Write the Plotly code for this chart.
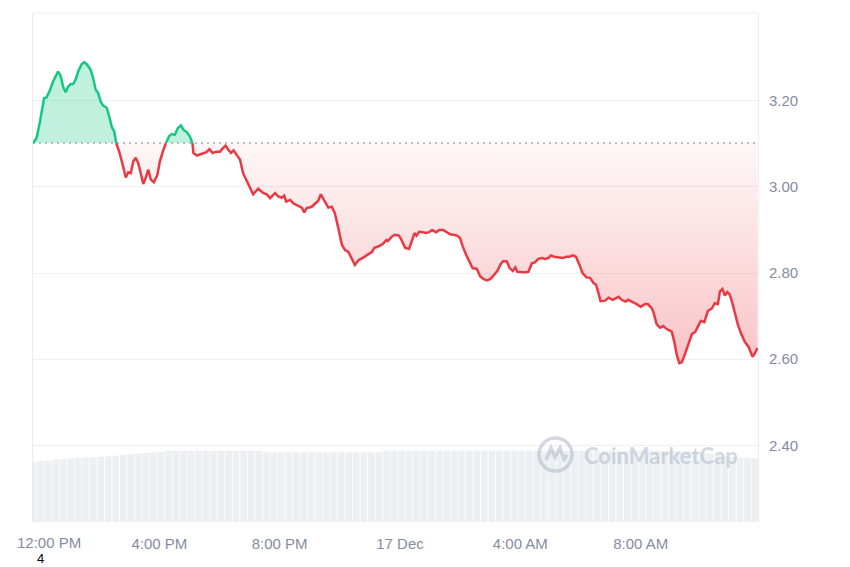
import plotly.graph_objects as go
import pandas as pd

# ---------------- data ----------------
start_time = "2024-12-16 11:48"
minutes = [0,7,14,22,27,33,40,50,55,60,
           65,70,75,80,85,90,97,102,108,115,
           120,125,130,135,140,147,152,157,162,166,
           172,179,185,190,195,200,205,210,215,220,
           225,230,235,241,248,253,259,265,272,277,
           283,289,295,300,307,313,318,320,327,333,
           340,346,352,358,366,373,378,384,390,395,
           400,406,413,419,429,439,449,459,466,473,
           483,489,496,501,505,513,519,529,536,541,
           546,556,562,569,574,581,589,596,602,609,
           616,622,629,636,642,650,659,669,676,681,
           689,697,705,708,716,722,730,735,742,750,
           755,761,765,770,777,784,790,796,804,810,
           818,825,832,838,846,852,857,864,870,877,
           885,892,899,906,913,920,926,933,938,945,
           951,957,962,966,973,981,988,995,1001,1008,
           1015,1021,1028,1033,1039,1048,1057,1063,1070,1077,
           1083,1090,1096,1104,1111,1118,1123,1128,1132,1141,
           1148,1156,1162,1168,1174,1182,1187,1195,1204,1212,
           1221,1226,1233,1237,1244,1251,1257,1264,1274,1279,
           1284,1289,1294,1301,1307,1314,1321,1326,1332,1339,
           1346,1354,1360,1366,1370,1375,1380,1385,1390,1395,
           1400,1406,1412,1420,1427,1435,1440,1445]
prices = [3.102,3.113,3.152,3.206,3.208,3.222,3.245,3.268,3.259,3.233,
          3.220,3.233,3.239,3.239,3.249,3.268,3.285,3.290,3.284,3.272,
          3.253,3.226,3.218,3.198,3.189,3.184,3.164,3.140,3.129,3.102,
          3.082,3.051,3.022,3.034,3.032,3.059,3.068,3.055,3.028,3.007,
          3.022,3.040,3.017,3.011,3.028,3.059,3.082,3.102,3.119,3.123,
          3.121,3.137,3.143,3.133,3.127,3.117,3.102,3.079,3.073,3.075,
          3.079,3.081,3.088,3.079,3.082,3.082,3.089,3.096,3.086,3.079,
          3.085,3.075,3.063,3.032,3.009,2.983,2.996,2.986,2.983,2.974,
          2.986,2.978,2.975,2.980,2.966,2.970,2.962,2.957,2.952,2.941,
          2.951,2.954,2.960,2.968,2.983,2.968,2.952,2.954,2.939,2.904,
          2.866,2.854,2.849,2.833,2.819,2.831,2.836,2.844,2.849,2.859,
          2.862,2.867,2.877,2.875,2.885,2.889,2.887,2.877,2.859,2.856,
          2.873,2.893,2.887,2.896,2.895,2.893,2.895,2.900,2.895,2.900,
          2.900,2.895,2.890,2.889,2.887,2.881,2.862,2.842,2.827,2.811,
          2.810,2.792,2.786,2.783,2.787,2.796,2.805,2.821,2.828,2.827,
          2.811,2.805,2.813,2.803,2.802,2.802,2.803,2.823,2.825,2.833,
          2.835,2.833,2.835,2.841,2.838,2.836,2.835,2.838,2.838,2.841,
          2.838,2.819,2.800,2.790,2.789,2.777,2.773,2.753,2.735,2.736,
          2.743,2.738,2.742,2.745,2.738,2.734,2.738,2.734,2.728,2.722,
          2.728,2.728,2.720,2.711,2.681,2.673,2.677,2.670,2.664,2.641,
          2.610,2.591,2.593,2.614,2.637,2.658,2.664,2.676,2.689,2.686,
          2.712,2.718,2.730,2.728,2.757,2.763,2.748,2.756,2.749,2.730,
          2.707,2.680,2.660,2.640,2.629,2.606,2.614,2.626]
base_price = 3.102

# volume (15-minute bars, millions)
volumes = [236,239,242,245,247,250,252,254,255,256,
           258,261,264,267,270,272,274,276,279,280,
           280,280,280,280,280,280,280,280,280,280,280,
           275,275,275,275,275,275,275,275,275,275,275,275,275,275,275,275,
           281,281,281,281,281,281,281,281,281,281,281,281,281,281,281,281,281,281,281,281,
           280,280,280,280,280,280,280,280,280,280,280,280,280,280,280,280,280,280,280,279,279,
           276,272,268,264,259,254,252,251,250]
volume_step_minutes = 15

tick_times = ["2024-12-16 12:00", "2024-12-16 16:00", "2024-12-16 20:00",
              "2024-12-17 00:00", "2024-12-17 04:00", "2024-12-17 08:00"]
tick_labels = ["12:00 PM", "4:00 PM", "8:00 PM", "17 Dec", "4:00 AM", "8:00 AM"]
y_ticks = [2.40, 2.60, 2.80, 3.00, 3.20]
y_labels = ["2.40", "2.60", "2.80", "3.00", "3.20"]

# ---------------- build ----------------
t0 = pd.Timestamp(start_time)
n = min(len(minutes), len(prices))
times = [t0 + pd.Timedelta(minutes=m) for m in minutes[:n]]
vals = prices[:n]

xs, ys = [], []
for i in range(n):
    if i > 0:
        p0, p1 = vals[i - 1], vals[i]
        if (p0 - base_price) * (p1 - base_price) < 0:
            f = (base_price - p0) / (p1 - p0)
            xs.append(times[i - 1] + (times[i] - times[i - 1]) * f)
            ys.append(base_price)
    xs.append(times[i])
    ys.append(vals[i])

up_line = [y if y >= base_price else None for y in ys]
dn_line = [y if y <= base_price else None for y in ys]
up_fill = [max(y, base_price) for y in ys]
dn_fill = [min(y, base_price) for y in ys]

vol_times = [t0 + pd.Timedelta(minutes=volume_step_minutes * i) for i in range(len(volumes))]
x_end = t0 + pd.Timedelta(minutes=1446)

GREEN = "#16c784"
RED = "#ea3943"
GRAY_TXT = "#858ca2"

fig = go.Figure()

fig.add_trace(go.Bar(x=vol_times, y=volumes, yaxis="y2",
                     marker=dict(color="#edf0f3", line=dict(width=0)),
                     hoverinfo="skip", showlegend=False))

fig.add_trace(go.Scatter(x=xs, y=[base_price] * len(xs), mode="lines",
                         line=dict(width=0), hoverinfo="skip", showlegend=False))
fig.add_trace(go.Scatter(x=xs, y=up_fill, mode="lines", line=dict(width=0),
                         fill="tonexty", fillcolor="rgba(22,199,132,0.27)",
                         hoverinfo="skip", showlegend=False))
fig.add_trace(go.Scatter(x=xs, y=[base_price] * len(xs), mode="lines",
                         line=dict(width=0), hoverinfo="skip", showlegend=False))
fig.add_trace(go.Scatter(x=xs, y=dn_fill, mode="lines", line=dict(width=0),
                         fill="tonexty",
                         fillgradient=dict(type="vertical", start=2.59, stop=base_price,
                                           colorscale=[[0, "rgba(234,57,67,0.30)"],
                                                       [1, "rgba(234,57,67,0.04)"]]),
                         hoverinfo="skip", showlegend=False))

fig.add_trace(go.Scatter(x=[t0, x_end], y=[base_price, base_price], mode="lines",
                         line=dict(color="#a3a8b3", width=1.5, dash="2px,4px"),
                         hoverinfo="skip", showlegend=False))

fig.add_trace(go.Scatter(x=xs, y=dn_line, mode="lines",
                         line=dict(color=RED, width=2.5), connectgaps=False,
                         showlegend=False))
fig.add_trace(go.Scatter(x=xs, y=up_line, mode="lines",
                         line=dict(color=GREEN, width=2.5), connectgaps=False,
                         showlegend=False))

BORDER = "#ececee"
# the page adds an 8px body offset: figure is sized to the visible window area
fig.update_layout(
    width=842, height=559,
    margin=dict(l=25, r=92, t=5, b=45, autoexpand=False),
    paper_bgcolor="white", plot_bgcolor="white",
    bargap=0.1,
    showlegend=False,
    font=dict(family="Liberation Sans, Arial, sans-serif", color=GRAY_TXT, size=15),
    xaxis=dict(type="date", range=[t0, x_end], tickvals=tick_times[1:],
               ticktext=tick_labels[1:],
               showgrid=False, zeroline=False, showline=False, automargin=False,
               ticks="outside", ticklen=8, tickcolor="rgba(0,0,0,0)",
               tickfont=dict(size=15, color=GRAY_TXT)),
    yaxis=dict(side="right", range=[2.222, 3.404], tickvals=y_ticks, ticktext=y_labels,
               showgrid=True, gridcolor="#f0f0f2", gridwidth=1, zeroline=False,
               showline=True, mirror=True, linecolor=BORDER, linewidth=1, automargin=False,
               ticks="outside", ticklen=7, tickcolor="rgba(0,0,0,0)",
               tickfont=dict(size=15, color=GRAY_TXT)),
    yaxis2=dict(overlaying="y", range=[0, 2000], visible=False, showgrid=False,
                automargin=False),
)

# top border
fig.add_shape(type="line", xref="paper", yref="paper", x0=0, x1=1, y0=1, y1=1,
              line=dict(color=BORDER, width=1))

# screen px -> plot-area paper coords
def px2paper(px, py):
    return (px - 33) / 725.0, (522 - py) / 509.0

# first time label is clamped inside the chart edge (as in the original)
fx, fy = px2paper(49, 542)
fig.add_annotation(x=fx, y=fy, xref="paper", yref="paper", text=tick_labels[0],
                   showarrow=False, xanchor="center", yanchor="middle", borderpad=0,
                   font=dict(size=15, color=GRAY_TXT))

# watermark logo (approximate)
WM = "rgba(180,188,204,0.6)"
cx0, cy0 = px2paper(539, 438)
cx1, cy1 = px2paper(572, 471)
fig.add_shape(type="circle", xref="paper", yref="paper", x0=cx0, y0=cy1, x1=cx1, y1=cy0,
              line=dict(color=WM, width=3.5), fillcolor="rgba(0,0,0,0)")
pts = [(546, 460), (551, 448), (555, 457), (560, 448), (564, 459), (567, 455)]
path = ""
for k, (px, py) in enumerate(pts):
    a, b = px2paper(px, py)
    path += ("M" if k == 0 else " L") + f"{a:.5f},{b:.5f}"
fig.add_shape(type="path", xref="paper", yref="paper", path=path,
              line=dict(color=WM, width=3.5))
wx, wy = px2paper(582, 455)
fig.add_annotation(x=wx, y=wy, xref="paper", yref="paper", text="<b>CoinMarketCap</b>",
                   showarrow=False, xanchor="left", yanchor="middle",
                   font=dict(family="Lato, Inter, sans-serif", size=22, color=WM))

# stray figure number
nx, ny = px2paper(40, 567)
fig.add_annotation(x=nx, y=ny, xref="paper", yref="paper", text="4", showarrow=False,
                   xanchor="center", yanchor="bottom", borderpad=0,
                   font=dict(family="Liberation Sans, Arial", size=13, color="black"))

fig.write_html("out.html")
